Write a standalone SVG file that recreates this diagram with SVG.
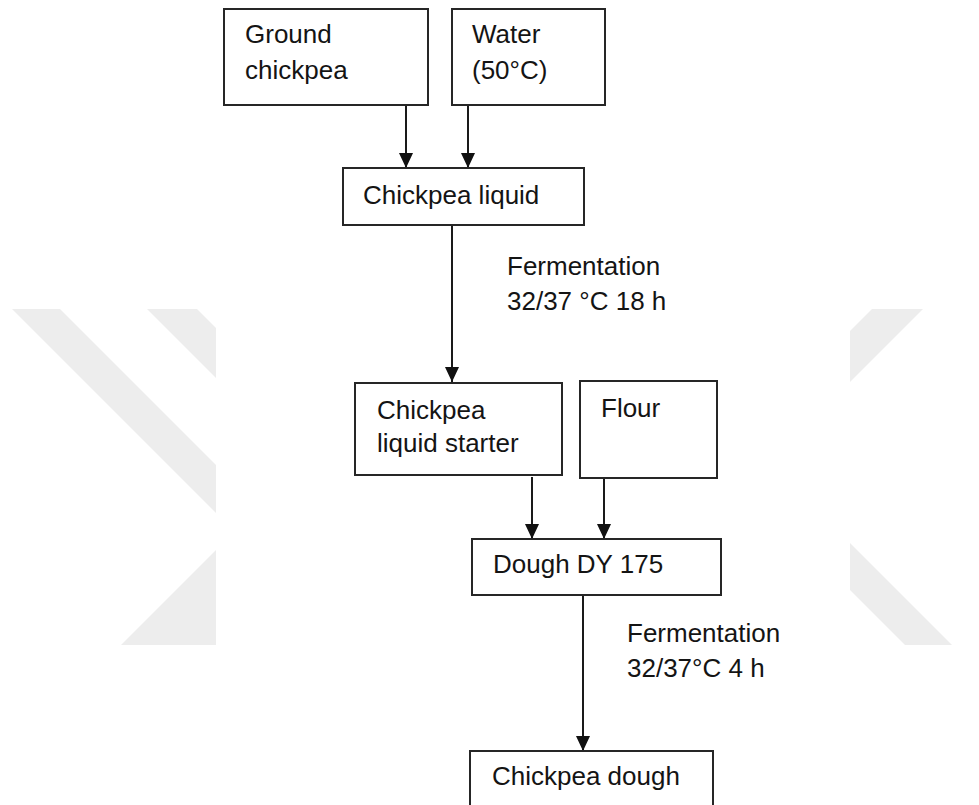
<svg xmlns="http://www.w3.org/2000/svg" width="979" height="805" viewBox="0 0 979 805">
  <style>
    .wm { fill: #ededed; }
    .box { fill: #ffffff; stroke: #262626; stroke-width: 2; }
    .t { font-family: "Liberation Sans", Arial, sans-serif; font-size: 26px; fill: #141414; }
    .c { stroke: #1a1a1a; stroke-width: 2; fill: none; marker-end: url(#ah); }
  </style>
  <defs>
    <marker id="ah" viewBox="0 0 15 14" refX="15" refY="7" markerWidth="15" markerHeight="14" markerUnits="userSpaceOnUse" orient="auto">
      <path d="M0,0 L15,7 L0,14 z" fill="#111"/>
    </marker>
  </defs>
  <rect width="979" height="805" fill="#ffffff"/>
  <g id="watermark">
    <polygon class="wm" points="12,309 60,309 216,465 216,513"/>
    <polygon class="wm" points="147,309 197,309 216,328 216,378"/>
    <polygon class="wm" points="216,550 121,645 216,645"/>
    <polygon class="wm" points="872,309 923,309 850,382 850,331"/>
    <polygon class="wm" points="850,543 952,645 905,645 850,590"/>
  </g>
  <g id="connectors">
    <line class="c" x1="406" y1="105" x2="406" y2="168"/>
    <line class="c" x1="468" y1="105" x2="468" y2="168"/>
    <line class="c" x1="452" y1="225" x2="452" y2="382"/>
    <line class="c" x1="532" y1="477" x2="532" y2="539"/>
    <line class="c" x1="604" y1="479" x2="604" y2="539"/>
    <line class="c" x1="583" y1="596" x2="583" y2="751"/>
  </g>
  <g id="ground-chickpea">
    <rect class="box" x="224" y="9" width="204" height="96"/>
    <text class="t" x="245" y="43">Ground</text>
    <text class="t" x="245" y="79">chickpea</text>
  </g>
  <g id="water">
    <rect class="box" x="452" y="9" width="153" height="96"/>
    <text class="t" x="472" y="43">Water</text>
    <text class="t" x="472" y="79">(50°C)</text>
  </g>
  <g id="chickpea-liquid">
    <rect class="box" x="343" y="168" width="241" height="57"/>
    <text class="t" x="363" y="204">Chickpea liquid</text>
  </g>
  <g id="fermentation-1">
    <text class="t" x="507" y="275">Fermentation</text>
    <text class="t" x="507" y="310">32/37 °C 18 h</text>
  </g>
  <g id="chickpea-liquid-starter">
    <rect class="box" x="355" y="383" width="207" height="92"/>
    <text class="t" x="377" y="419">Chickpea</text>
    <text class="t" x="377" y="452">liquid starter</text>
  </g>
  <g id="flour">
    <rect class="box" x="580" y="381" width="137" height="97"/>
    <text class="t" x="601" y="417">Flour</text>
  </g>
  <g id="dough-dy175">
    <rect class="box" x="472" y="539" width="249" height="56"/>
    <text class="t" x="493" y="573">Dough DY 175</text>
  </g>
  <g id="fermentation-2">
    <text class="t" x="627" y="642">Fermentation</text>
    <text class="t" x="627" y="677">32/37°C 4 h</text>
  </g>
  <g id="chickpea-dough">
    <rect class="box" x="470" y="751" width="243" height="70"/>
    <text class="t" x="492" y="785">Chickpea dough</text>
  </g>
</svg>
